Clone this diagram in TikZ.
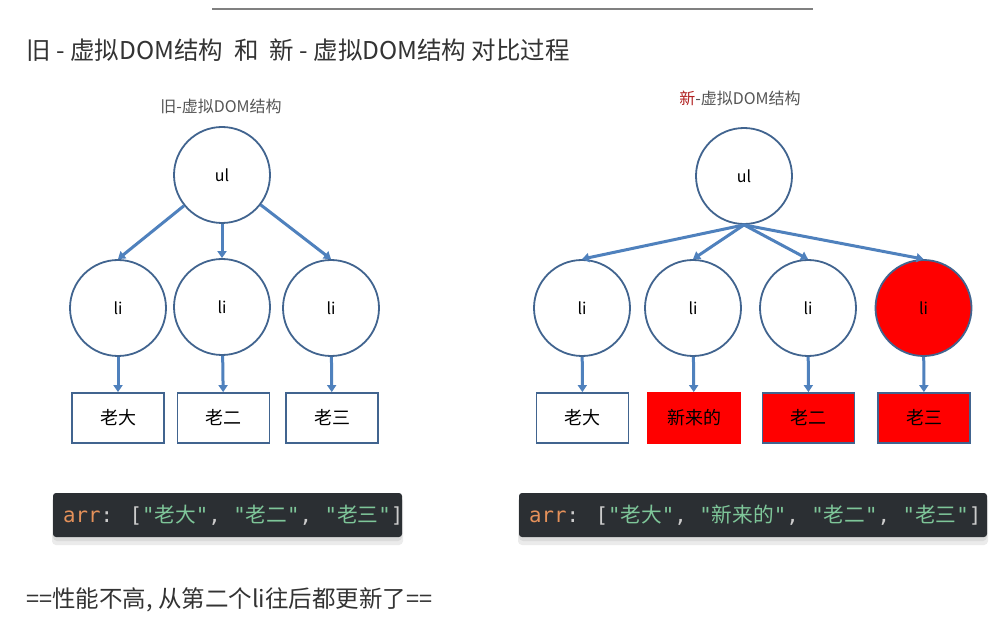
\documentclass[tikz,border=0pt]{standalone}
\usepackage{fontspec}
\setmainfont{Noto Sans CJK SC}
\newfontfamily\cjk{Noto Sans CJK SC}
\newfontfamily\monof{DejaVu Sans Mono}
\usetikzlibrary{arrows.meta}
\definecolor{cborder}{HTML}{41648F}
\definecolor{ablue}{HTML}{4F81BD}
\definecolor{txtgray}{HTML}{333333}
\definecolor{lblgray}{HTML}{555555}
\definecolor{codebg}{HTML}{2B2F33}
\definecolor{codegreen}{HTML}{7EC699}
\definecolor{codeorange}{HTML}{E5915A}
\definecolor{codepunct}{HTML}{CCCCCC}
\definecolor{newred}{HTML}{B22222}
\newcommand\pu[1]{{\color{codepunct}#1}}
\newcommand\st[1]{{\color{codegreen}"{\cjk #1}"}}
\begin{document}
\begin{tikzpicture}[x=1pt,y=-1pt,
  circ/.style={circle, draw=cborder, line width=1.8pt, minimum size=96pt, inner sep=0pt, font=\fontsize{16}{19}\selectfont},
  leaf/.style={rectangle, draw=cborder, line width=1.8pt, minimum width=92pt, minimum height=50pt, inner sep=0pt, font=\fontsize{18}{21}\selectfont},
  arr/.style={draw=ablue, line width=3pt, -{Triangle[width=9pt,length=7pt]}},
  codebox/.style={fill=codebg, rounded corners=3pt},
  codetxt/.style={anchor=west, inner sep=0pt, font=\monof\fontsize{20.7}{24}\selectfont}]
\useasboundingbox (0,0) rectangle (1004,620);
\fill[white] (0,0) rectangle (1004,620);

% top rule
\coordinate (ruleA) at (212,9);
\coordinate (ruleB) at (813,9);
\draw[black!50, line width=1.5pt] (ruleA) -- (ruleB);

% title
\node[anchor=west, inner sep=0pt, text=txtgray, font=\fontsize{24.5}{28}\selectfont] (title) at (26,50)
  {旧 - 虚拟DOM结构\ \ 和\ \ 新 - 虚拟DOM结构 对比过程};

% ---------- left tree ----------
\node[text=lblgray, font=\fontsize{16}{19}\selectfont] (lblL) at (221,106) {旧-虚拟DOM结构};
\node[circ] (ulL) at (222,175) {ul};
\node[circ] (liL1) at (118,308) {li};
\node[circ] (liL2) at (222,307) {li};
\node[circ] (liL3) at (331,308) {li};
\node[leaf] (bL1) at (118,418) {老大};
\node[leaf] (bL2) at (223.5,418) {老二};
\node[leaf] (bL3) at (332,418) {老三};
\draw[arr] (ulL) -- (liL1.north);
\draw[arr] (ulL) -- (liL2.north);
\draw[arr] (ulL) -- (liL3.north);
\draw[arr] (liL1) -- (bL1);
\draw[arr] (liL2) -- (bL2);
\draw[arr] (liL3) -- (bL3);

% ---------- right tree ----------
\node[text=lblgray, font=\fontsize{16}{19}\selectfont] (lblR) at (740,98) {{\color{newred}新}-虚拟DOM结构};
\node[circ] (ulR) at (744,176) {ul};
\node[circ] (liR1) at (582,308) {li};
\node[circ] (liR2) at (693,308) {li};
\node[circ] (liR3) at (808,308) {li};
\node[circ, fill=red] (liR4) at (923.5,308) {li};
\node[leaf] (bR1) at (582.5,418) {老大};
\node[leaf, fill=red, draw=red] (bR2) at (694,418) {新来的};
\node[leaf, fill=red] (bR3) at (808.5,418) {老二};
\node[leaf, fill=red] (bR4) at (924,418) {老三};
\draw[arr] (ulR.south) -- (liR1.north);
\draw[arr] (ulR.south) -- (liR2.north);
\draw[arr] (ulR.south) -- (liR3.north);
\draw[arr] (ulR.south) -- (liR4.north);
\draw[arr] (liR1) -- (bR1);
\draw[arr] (liR2) -- (bR2);
\draw[arr] (liR3) -- (bR3);
\draw[arr] (liR4) -- (bR4);

% ---------- code boxes ----------
\fill[black!8, rounded corners=4pt] (52,497) rectangle (403,545);
\fill[black!14, rounded corners=4pt] (53,496) rectangle (402,541);
\fill[codebox] (53,493) rectangle (402,537);
\node[codetxt] (codeL) at (63,515)
  {{\color{codeorange}arr}\pu{:} \pu{[}\st{老大}\pu{,} \st{老二}\pu{,} \st{老三}\pu{]}};

\fill[black!8, rounded corners=4pt] (518,497) rectangle (988,545);
\fill[black!14, rounded corners=4pt] (519,496) rectangle (987,541);
\fill[codebox] (519,493) rectangle (987,537);
\node[codetxt] (codeR) at (529,515)
  {{\color{codeorange}arr}\pu{:} \pu{[}\st{老大}\pu{,} \st{新来的}\pu{,} \st{老二}\pu{,} \st{老三}\pu{]}};

% bottom note
\node[anchor=west, inner sep=0pt, text=txtgray, font=\fontsize{23.5}{28}\selectfont] (note) at (26,600)
  {==性能不高, 从第二个li往后都更新了==};
\end{tikzpicture}
\end{document}
